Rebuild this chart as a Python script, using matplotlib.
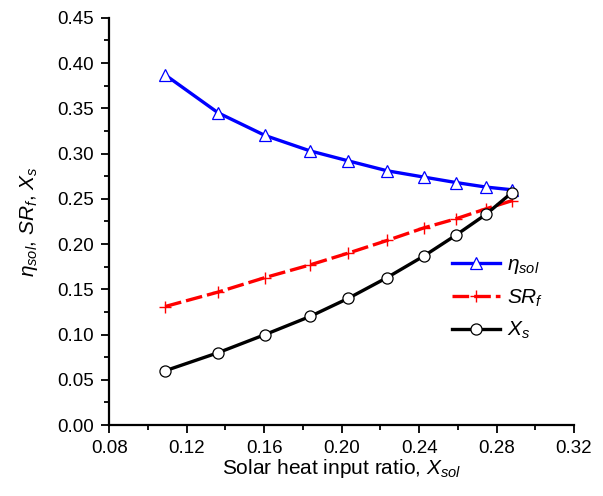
import matplotlib.pyplot as plt
from matplotlib.ticker import MultipleLocator

plt.rcParams['font.family'] = ['Liberation Sans', 'DejaVu Sans']
plt.rcParams['mathtext.fontset'] = 'custom'
plt.rcParams['mathtext.rm'] = 'Liberation Sans'
plt.rcParams['mathtext.it'] = 'Liberation Sans:italic'

x_sol = [0.1089, 0.1363, 0.1605, 0.1837, 0.2034, 0.2235, 0.2426, 0.2591, 0.2746, 0.2880]
eta_sol = [0.387, 0.345, 0.320, 0.303, 0.292, 0.281, 0.274, 0.268, 0.263, 0.260]
sr_f = [0.131, 0.147, 0.163, 0.177, 0.190, 0.204, 0.218, 0.228, 0.239, 0.248]
x_s = [0.060, 0.080, 0.100, 0.120, 0.140, 0.163, 0.187, 0.210, 0.233, 0.257]

fig = plt.figure(figsize=(6.03, 4.96), dpi=100)
ax = fig.add_axes([0.181, 0.143, 0.771, 0.821])

ax.plot(x_sol, eta_sol, color='blue', lw=2.4, marker='^', ms=9, mfc='white',
        mec='blue', mew=0.9, label=r'$\eta_{sol}$')
ax.plot(x_sol, sr_f, color='red', lw=2.4, ls=(0, (5, 1.5)), marker='+', ms=8,
        mec='red', mew=1, label=r'$SR_f$')
ax.plot(x_sol, x_s, color='black', lw=2.4, marker='o', ms=8, mfc='white',
        mec='black', mew=0.9, label=r'$X_s$')

ax.set_xlim(0.08, 0.32)
ax.set_ylim(0.0, 0.45)
ax.xaxis.set_major_locator(MultipleLocator(0.04))
ax.xaxis.set_minor_locator(MultipleLocator(0.02))
ax.yaxis.set_major_locator(MultipleLocator(0.05))
ax.yaxis.set_minor_locator(MultipleLocator(0.025))
ax.xaxis.set_major_formatter(plt.FormatStrFormatter('%.2f'))
ax.yaxis.set_major_formatter(plt.FormatStrFormatter('%.2f'))

for s in ['top', 'right']:
    ax.spines[s].set_visible(False)
for s in ['left', 'bottom']:
    ax.spines[s].set_linewidth(1.6)
ax.tick_params(which='major', direction='out', length=6, width=1.3,
               labelsize=13.5, pad=5)
ax.tick_params(which='minor', direction='out', length=3.5, width=1.3)

ax.set_xlabel(r'Solar heat input ratio, $X_{sol}$', fontsize=15, labelpad=0)
ax.set_ylabel(r'$\eta_{sol}$, $SR_f$, $X_s$', fontsize=15, labelpad=12)

ax.legend(loc='upper left', bbox_to_anchor=(0.738, 0.418), frameon=False,
          fontsize=15, handlelength=2.3, handletextpad=0.35, labelspacing=0.55,
          borderpad=0, borderaxespad=0)

fig.savefig('out.png', dpi=100)
